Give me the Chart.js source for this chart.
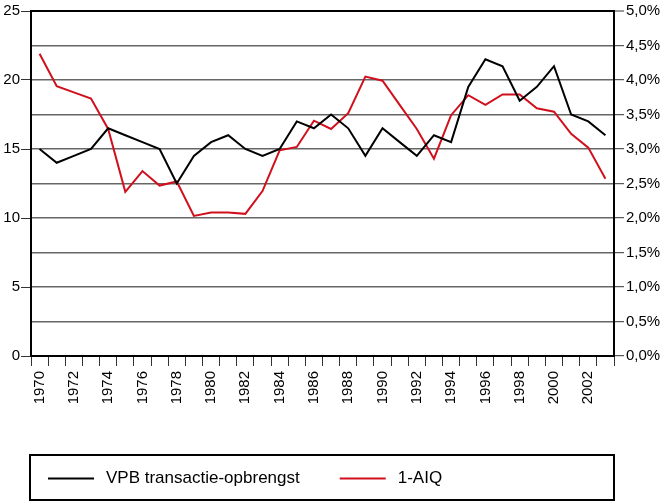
<!DOCTYPE html>
<html>
<head>
<meta charset="utf-8">
<script src="https://cdn.jsdelivr.net/npm/chart.js@4/dist/chart.umd.min.js"></script>
<style>
  body { margin: 0; background: #fff; }
  canvas { display: block; }
</style>
</head>
<body>
<canvas id="chart" width="665" height="503"></canvas>
<script>
// Categories
const years = ["1970", "1971", "1972", "1973", "1974", "1975", "1976", "1977", "1978", "1979",
  "1980", "1981", "1982", "1983", "1984", "1985", "1986", "1987", "1988", "1989",
  "1990", "1991", "1992", "1993", "1994", "1995", "1996", "1997", "1998", "1999",
  "2000", "2001", "2002", "2003"];

// VPB transactie-opbrengst (left axis)
const vpb = [15, 14, 14.5, 15, 16.5, 16, 15.5, 15, 12.5, 14.5,
  15.5, 16, 15, 14.5, 15, 17, 16.5, 17.5, 16.5, 14.5,
  16.5, 15.5, 14.5, 16, 15.5, 19.5, 21.5, 21, 18.5, 19.5,
  21, 17.5, 17, 16];

// 1-AIQ in % (right axis)
const aiq = [4.38, 3.91, 3.82, 3.73, 3.29, 2.38, 2.68, 2.47, 2.53, 2.03,
  2.08, 2.08, 2.06, 2.39, 2.98, 3.03, 3.41, 3.29, 3.52, 4.05,
  3.99, 3.64, 3.29, 2.86, 3.49, 3.78, 3.64, 3.79, 3.79, 3.59,
  3.54, 3.22, 3.02, 2.57];

const tickFont = { family: "'Liberation Sans', Arial, sans-serif", size: 15 };
const legendFont = "17px 'Liberation Sans', Arial, sans-serif";

Chart.defaults.color = "#000";

// Boxed legend under the chart
const boxLegend = {
  id: "boxLegend",
  afterDraw(chart) {
    const ctx = chart.ctx;
    const area = chart.chartArea;
    const top = 455, bottom = 500;
    const midY = (top + bottom) / 2 + 1;

    ctx.save();
    ctx.strokeStyle = "#000";
    ctx.lineWidth = 2;
    ctx.strokeRect(area.left - 1, top, area.right - area.left + 1, bottom - top);

    ctx.font = legendFont;
    ctx.textBaseline = "middle";
    ctx.fillStyle = "#000";
    let x = 48;
    chart.data.datasets.forEach(ds => {
      ctx.strokeStyle = ds.borderColor;
      ctx.lineWidth = 2;
      ctx.beginPath();
      ctx.moveTo(x, midY);
      ctx.lineTo(x + 46, midY);
      ctx.stroke();
      const textX = x + 46 + 12;
      ctx.fillText(ds.label, textX, midY);
      x = textX + ctx.measureText(ds.label).width + 40;
    });
    ctx.restore();
  }
};

new Chart(document.getElementById("chart"), {
  type: "line",
  data: {
    labels: years,
    datasets: [
      {
        label: "VPB transactie-opbrengst",
        data: vpb,
        yAxisID: "y",
        borderColor: "#000",
        borderWidth: 2,
        pointRadius: 0,
        tension: 0
      },
      {
        label: "1-AIQ",
        data: aiq,
        yAxisID: "y1",
        borderColor: "#d0101c",
        borderWidth: 2,
        pointRadius: 0,
        tension: 0
      }
    ]
  },
  options: {
    responsive: false,
    animation: false,
    devicePixelRatio: 1,
    layout: { padding: { top: 6, left: 0, right: 0, bottom: 0 } },
    plugins: {
      legend: { display: false },
      tooltip: { enabled: false }
    },
    scales: {
      x: {
        offset: true,
        afterFit: scale => { scale.height = 147; },
        border: { display: true, color: "#000", width: 2 },
        grid: {
          offset: true,
          drawOnChartArea: false,
          drawTicks: true,
          tickLength: 10,
          tickColor: "#333",
          tickWidth: 1
        },
        ticks: {
          autoSkip: false,
          maxRotation: 90,
          minRotation: 90,
          padding: 5,
          font: tickFont,
          callback: function (value, index) {
            return index % 2 === 0 ? this.getLabelForValue(value) : "";
          }
        }
      },
      y: {
        position: "left",
        min: 0,
        max: 25,
        afterFit: scale => { scale.width = 31; },
        border: { display: true, color: "#000", width: 2 },
        grid: {
          drawOnChartArea: false,
          drawTicks: true,
          tickLength: 10,
          tickColor: "#333",
          tickWidth: 1
        },
        ticks: {
          stepSize: 5,
          padding: 1,
          font: tickFont
        }
      },
      y1: {
        position: "right",
        min: 0,
        max: 5,
        afterFit: scale => { scale.width = 51; },
        border: { display: true, color: "#000", width: 2 },
        grid: {
          drawOnChartArea: true,
          drawTicks: true,
          tickLength: 10,
          tickColor: "#333",
          tickWidth: 1,
          color: ctx => ctx.tick && ctx.tick.value === 5 ? "#000" : "#666",
          lineWidth: ctx => ctx.tick && ctx.tick.value === 5 ? 2 : 1.4
        },
        ticks: {
          stepSize: 0.5,
          padding: 2,
          font: tickFont,
          callback: value => value.toFixed(1).replace(".", ",") + "%"
        }
      }
    }
  },
  plugins: [boxLegend]
});
</script>
</body>
</html>
